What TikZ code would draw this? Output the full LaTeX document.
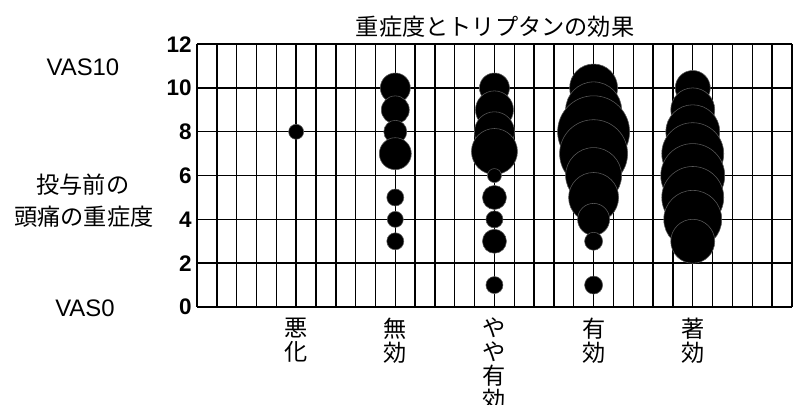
\documentclass[tikz,border=0pt]{standalone}
\usepackage{fontspec}
\setmainfont{Liberation Sans}
\newfontfamily\jpfont{Noto Sans CJK JP}
\usetikzlibrary{positioning}

\begin{document}
\begin{tikzpicture}[x=0.4958cm,y=0.5475cm,
        gridline/.style={line width=1pt},
        bubble/.style={fill=black,draw=black!65,line width=0.4pt},
        ytick/.style={anchor=east,inner sep=0pt,font=\fontsize{16}{16}\selectfont\bfseries},
        vas/.style={font=\fontsize{17}{17}\selectfont},
        jp/.style={font=\jpfont\fontsize{16.5}{16.5}\selectfont},
        colname/.style={anchor=north,inner sep=0pt,align=center,font=\jpfont\fontsize{16.5}{17}\selectfont}]
            \useasboundingbox (-9.934,-4.475) rectangle (30.055,14.018);
            % grid
            \foreach \i in {0,...,30}
                \draw[gridline] (\i,0) -- (\i,12);
            \foreach \j in {0,2,...,12}{
                \draw[gridline] (0,\j) -- (30,\j);
                \node[ytick] (tick\j) at (-0.25,\j) {\j};
            }
            % bubbles: column/severity/radius in px
            \foreach \c/\v/\r in {5/8/7.5,
                    10/10/15,10/9/14,10/8/11.5,10/7/16,10/5/8.5,10/4/8,10/3/8.5,
                    15/10/15,15/9/19,15/8/20,15/7.1/23,15/6/7,15/5/12,15/4/8.5,15/3/12,15/1/8.5,
                    20/10/24,20/9/28,20/8/36,20/7/34,20/6/28,20/5/25,20/4/16,20/3/9,20/1/9,
                    25/10/17.5,25/9/22,25/8/27,25/7/31,25/6/32,25/5/31,25/4/29,25/3/22}
                \draw[bubble] (\c,\v) circle[radius=\r*0.025cm];
            % texts
            \node[jp] (title) at (15.03,12.82) {重症度とトリプタンの効果};
            \node[vas] (vasTop) at (-5.75,10.96) {VAS10};
            \node[jp] (preDose) at (-5.75,5.57) {投与前の};
            \node[jp] (severity) at (-5.70,4.11) {頭痛の重症度};
            \node[vas] (vasBottom) at (-5.65,-0.05) {VAS0};
            \node[colname] (worse) at (5,-0.5) {悪\\化};
            \node[colname] (noEffect) at (10,-0.5) {無\\効};
            \node[colname] (someEffect) at (15,-0.5) {や\\や\\有\\効};
            \node[colname] (effect) at (20,-0.5) {有\\効};
            \node[colname] (strongEffect) at (25,-0.5) {著\\効};
        \end{tikzpicture}
\end{document}
